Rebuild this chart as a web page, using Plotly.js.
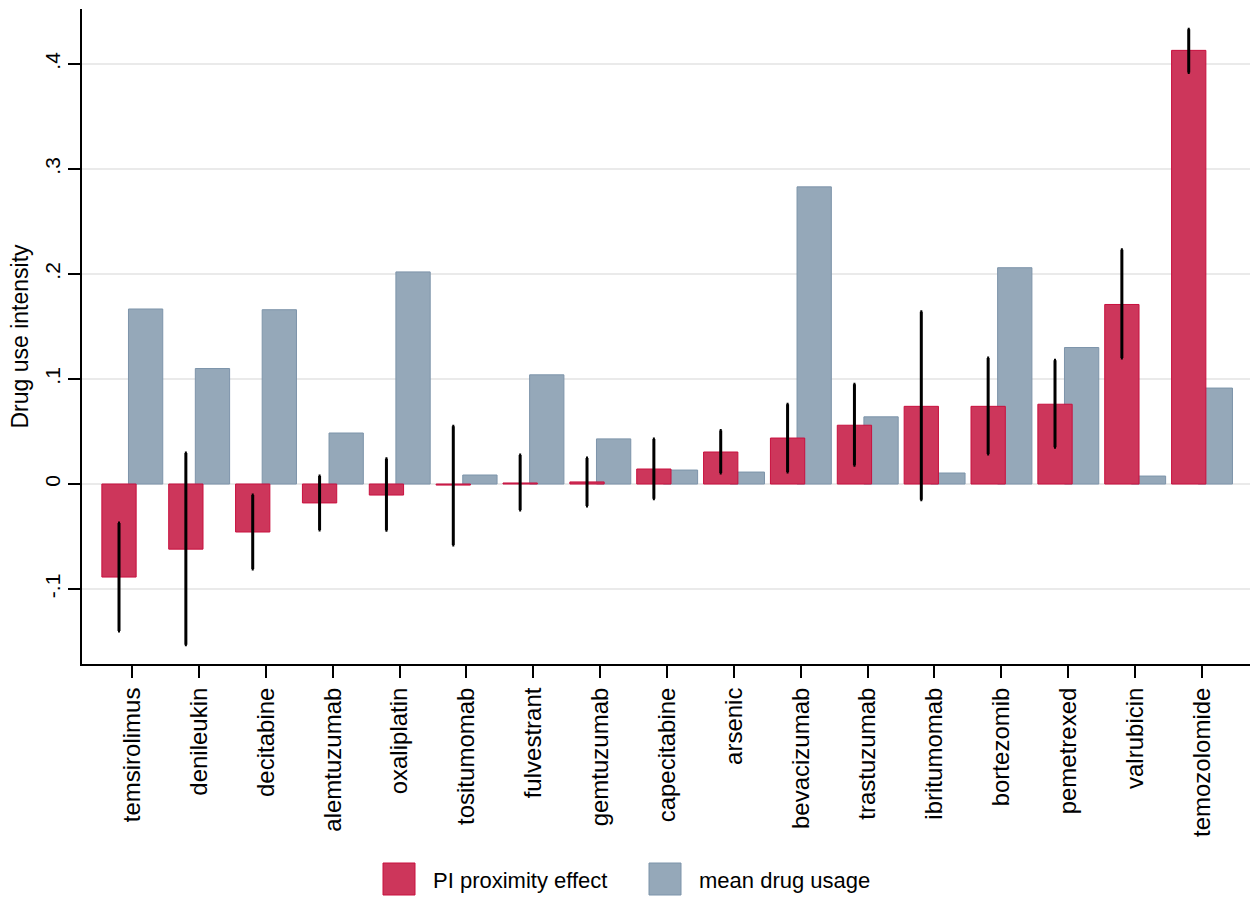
<!DOCTYPE html>
<html>
<head>
<meta charset="utf-8">
<script src="https://cdn.plot.ly/plotly-3.0.1.min.js"></script>
<style>
  html, body { margin: 0; padding: 0; background: #ffffff; }
  #chart { width: 1250px; height: 897px; }
</style>
</head>
<body>
<div id="chart"></div>
<script>
// Drugs, ordered by the size of the PI proximity effect
const drugs = ['temsirolimus', 'denileukin', 'decitabine', 'alemtuzumab', 'oxaliplatin',
  'tositumomab', 'fulvestrant', 'gemtuzumab', 'capecitabine', 'arsenic', 'bevacizumab',
  'trastuzumab', 'ibritumomab', 'bortezomib', 'pemetrexed', 'valrubicin', 'temozolomide'];

// PI proximity effect (point estimate) with its confidence interval
const effect = [-0.0886, -0.062, -0.0457, -0.018, -0.0105, -0.001, 0.001, 0.002, 0.0143,
  0.0305, 0.0438, 0.056, 0.074, 0.074, 0.076, 0.171, 0.413];
const ciLow = [-0.140, -0.153, -0.081, -0.0438, -0.044, -0.058, -0.0248, -0.021, -0.014,
  0.0105, 0.0114, 0.018, -0.015, 0.0286, 0.035, 0.120, 0.392];
const ciHigh = [-0.037, 0.0295, -0.0105, 0.0076, 0.024, 0.055, 0.0276, 0.0248, 0.043,
  0.051, 0.076, 0.095, 0.164, 0.120, 0.118, 0.223, 0.433];

// Mean drug usage
const usage = [0.1667, 0.110, 0.166, 0.0486, 0.202, 0.0086, 0.104, 0.043, 0.0133, 0.0114,
  0.283, 0.064, 0.0105, 0.206, 0.130, 0.0076, 0.0914];

// Y-axis ticks
const yTickVals = [-0.1, 0, 0.1, 0.2, 0.3, 0.4];
const yTickText = ['-.1', '0', '.1', '.2', '.3', '.4'];

const RED = 'rgb(205,54,91)';
const RED_EDGE = 'rgb(200,16,62)';
const GREY = 'rgb(149,168,185)';
const GREY_EDGE = 'rgb(125,148,170)';
const FONT = 'Liberation Sans, Arial, sans-serif';

const usageTrace = {
  type: 'bar', name: 'mean drug usage', x: drugs, y: usage,
  offset: -0.055, width: 0.513,
  marker: { color: GREY, line: { color: GREY_EDGE, width: 1 } },
  showlegend: false, hoverinfo: 'x+y'
};

const effectTrace = {
  type: 'bar', name: 'PI proximity effect', x: drugs, y: effect,
  offset: -0.453, width: 0.513,
  marker: { color: RED, line: { color: RED_EDGE, width: 1 } },
  error_y: {
    type: 'data', symmetric: false,
    array: effect.map((v, i) => ciHigh[i] - v),
    arrayminus: effect.map((v, i) => v - ciLow[i]),
    color: '#000000', thickness: 3, width: 1
  },
  showlegend: false, hoverinfo: 'x+y'
};

// Plot area in page pixels, used to place the legend below the axis
const PLOT = { l: 82, r: 1250, t: 9, b: 664 };
const px = x => (x - PLOT.l) / (PLOT.r - PLOT.l);
const py = y => (PLOT.b - y) / (PLOT.b - PLOT.t);

const legendItems = [
  { name: effectTrace.name, fill: RED, edge: RED_EDGE, box: 383, text: 431 },
  { name: usageTrace.name, fill: GREY, edge: GREY_EDGE, box: 649, text: 697 }
];

const shapes = legendItems.map(it => ({
  type: 'rect', xref: 'paper', yref: 'paper',
  x0: px(it.box), x1: px(it.box + 32), y0: py(863), y1: py(895),
  fillcolor: it.fill, line: { color: it.edge, width: 1 }
}));

const annotations = legendItems.map(it => ({
  xref: 'paper', yref: 'paper', x: px(it.text), y: py(880),
  xanchor: 'left', yanchor: 'middle', showarrow: false,
  text: it.name, font: { family: FONT, size: 22, color: '#000000' }
}));

const layout = {
  width: 1250, height: 897,
  margin: { l: PLOT.l, r: 1250 - PLOT.r, t: PLOT.t, b: 897 - PLOT.b, pad: 0 },
  paper_bgcolor: '#ffffff', plot_bgcolor: '#ffffff',
  barmode: 'overlay',
  showlegend: false,
  font: { family: FONT, color: '#000000' },
  xaxis: {
    type: 'category', range: [-0.75, 16.72],
    showgrid: false, zeroline: false,
    showline: true, linecolor: '#000000', linewidth: 2,
    ticks: 'outside', ticklen: 12, tickwidth: 2, tickcolor: '#000000',
    tickangle: -90, tickfont: { family: FONT, size: 24, color: '#000000' }
  },
  yaxis: {
    range: [-0.1714, 0.4524],
    tickvals: yTickVals, ticktext: yTickText,
    showgrid: true, gridcolor: '#eaeaea', gridwidth: 2,
    zeroline: false,
    showline: true, linecolor: '#000000', linewidth: 2,
    ticks: 'outside', ticklen: 12, tickwidth: 2, tickcolor: '#000000',
    tickangle: -90, tickfont: { family: FONT, size: 21, color: '#000000' },
    title: { text: 'Drug use intensity', font: { family: FONT, size: 23, color: '#000000' }, standoff: 6 }
  },
  shapes: shapes,
  annotations: annotations
};

Plotly.newPlot('chart', [usageTrace, effectTrace], layout, { displayModeBar: false, staticPlot: true });
</script>
</body>
</html>
